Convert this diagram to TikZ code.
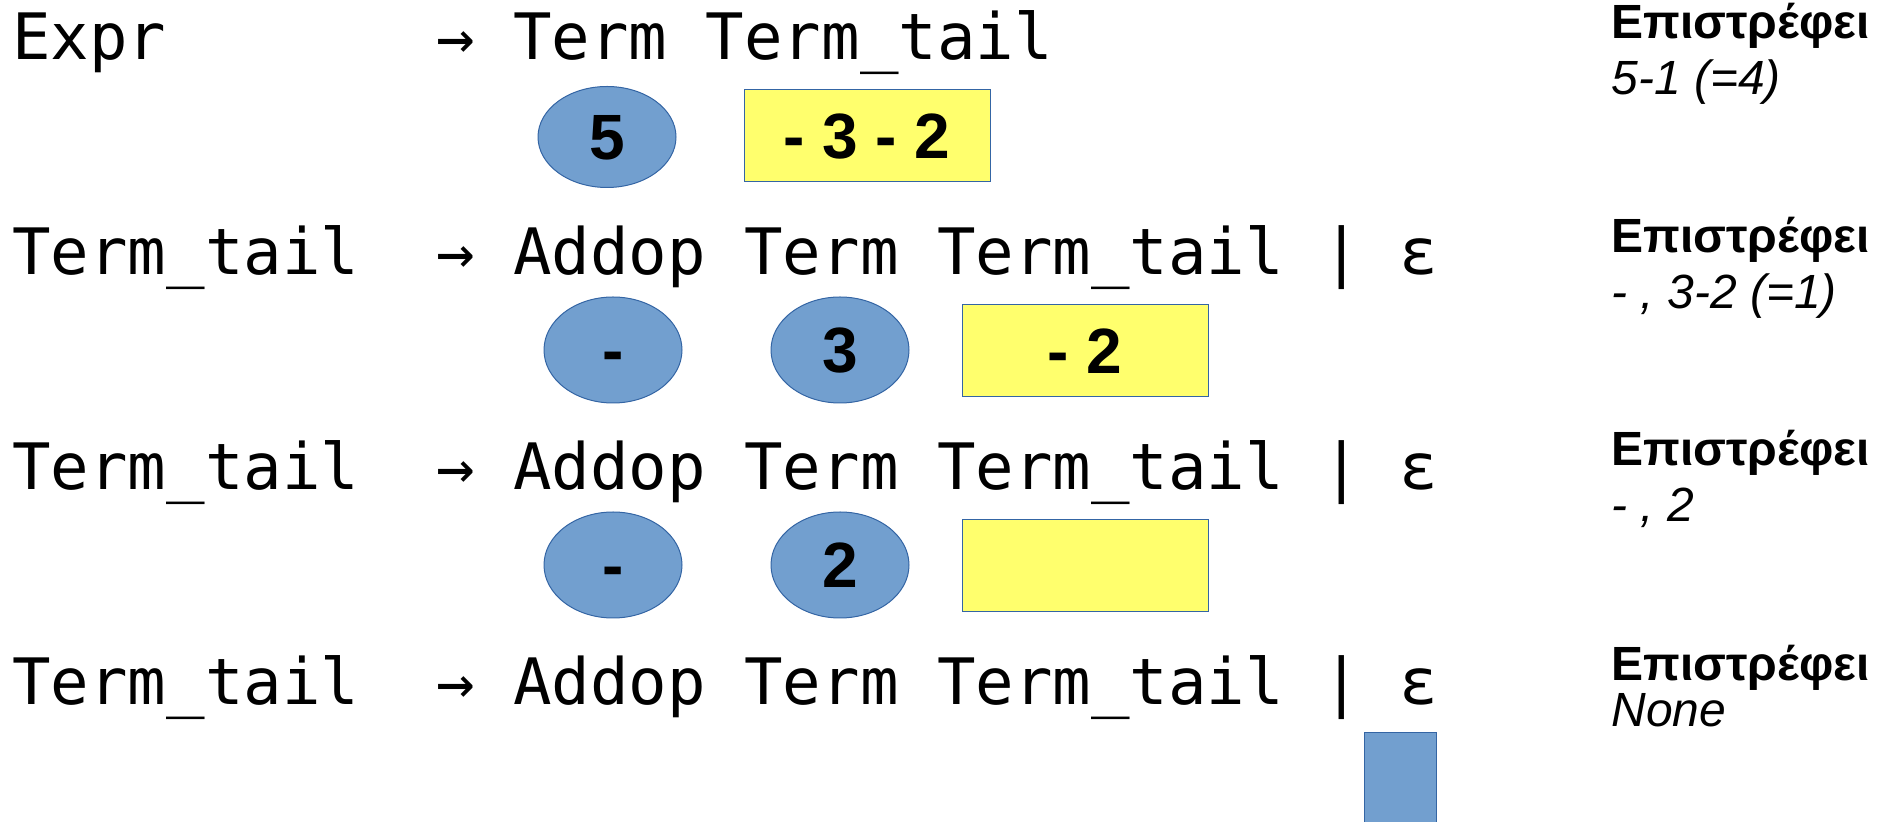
\documentclass[tikz,border=0pt]{standalone}
\usepackage{fontspec}
\setmainfont{Liberation Sans}
\newfontfamily\gramfont{DejaVu Sans Mono}
\usetikzlibrary{shapes.geometric}
\definecolor{tokblue}{HTML}{729FCF}
\definecolor{tokedge}{HTML}{3465A4}
\definecolor{tailyellow}{HTML}{FFFF6D}
\tikzset{
  x=0.5pt, y=-0.5pt,
  rule/.style={anchor=base west, inner sep=0pt, font=\gramfont\fontsize{32pt}{38pt}\selectfont},
  valfont/.style={font=\bfseries\fontsize{32pt}{38pt}\selectfont, text height=23pt, text depth=0pt},
  token/.style={ellipse, draw=tokedge, line width=0.5pt, fill=tokblue, inner sep=0pt,
    minimum width=69pt, minimum height=53pt, valfont},
  tailbox/.style={rectangle, draw=tokedge, line width=0.5pt, fill=tailyellow, inner sep=0pt,
    minimum width=123pt, minimum height=46pt, valfont},
  emptybox/.style={rectangle, draw=tokedge, line width=0.5pt, fill=tokblue, inner sep=0pt,
    minimum width=36pt, minimum height=60pt},
  rethead/.style={anchor=base west, inner sep=0pt, font=\bfseries\fontsize{24pt}{28pt}\selectfont},
  retval/.style={anchor=base west, inner sep=0pt, font=\itshape\fontsize{24pt}{28pt}\selectfont},
}
\begin{document}
\begin{tikzpicture}
\useasboundingbox (0,0) rectangle (1891,822);
\clip (0,0) rectangle (1891,822);

% grammar rules
\node[rule] (r1) at (12,60)  {Expr~~~~~~~→ Term Term\_tail};
\node[rule] (r2) at (12,275) {Term\_tail~~→ Addop Term Term\_tail | ε};
\node[rule] (r3) at (12,490) {Term\_tail~~→ Addop Term Term\_tail | ε};
\node[rule] (r4) at (12,705) {Term\_tail~~→ Addop Term Term\_tail | ε};

% values bound to each symbol
\node[token, minimum height=50.5pt] (t1a) at (607,137) {5};
\node[tailbox] (t1b) at (867,136) {- 3 - 2};

\node[token]   (t2a) at (613,350) {-};
\node[token]   (t2b) at (840,350) {3};
\node[tailbox] (t2c) at (1085,351) {- 2};

\node[token]   (t3a) at (613,565) {-};
\node[token]   (t3b) at (840,565) {2};
\node[tailbox] (t3c) at (1085,566) {};

\node[emptybox,anchor=north] (t4) at (1400,732) {};

% returned values
\node[rethead] (h1) at (1611,39)  {Επιστρέφει};
\node[retval]  (v1) at (1611,95)  {5-1 (=4)};
\node[rethead] (h2) at (1611,253) {Επιστρέφει};
\node[retval]  (v2) at (1611,309) {- , 3-2 (=1)};
\node[rethead] (h3) at (1611,466) {Επιστρέφει};
\node[retval]  (v3) at (1611,522) {- , 2};
\node[rethead] (h4) at (1611,681) {Επιστρέφει};
\node[retval]  (v4) at (1611,727) {None};
\end{tikzpicture}
\end{document}
